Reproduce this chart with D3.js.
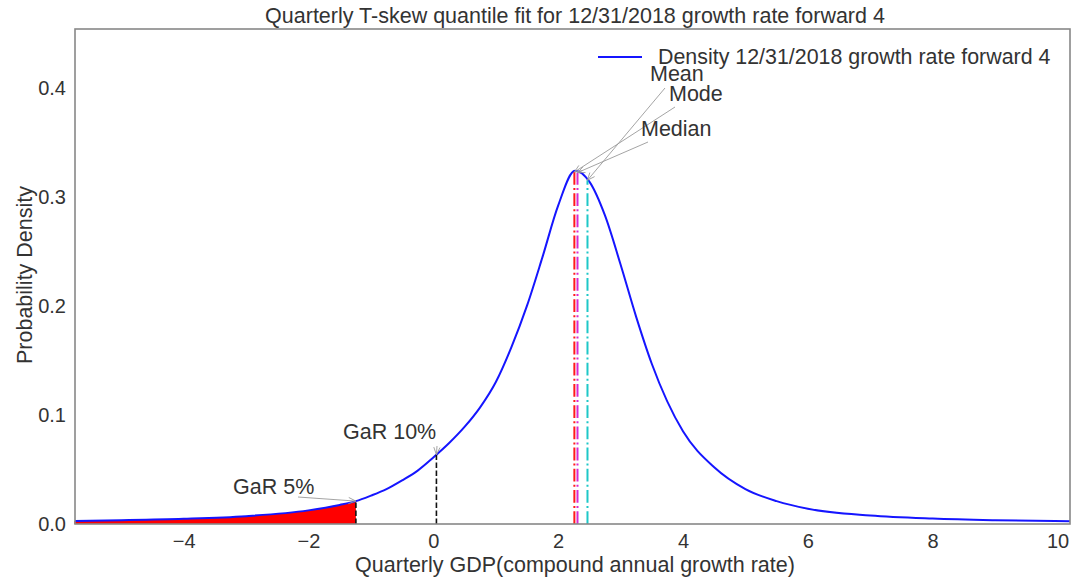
<!DOCTYPE html>
<html><head><meta charset="utf-8">
<script src="https://cdn.jsdelivr.net/npm/d3@7"></script>
<style>
body{margin:0;background:#fff;}
text{font-family:"Liberation Sans",Arial,sans-serif;fill:#333;}
</style></head>
<body><svg id="c" width="1071" height="580"></svg>
<script>
const densityX = [-5.75,-5,-4,-3,-2,-1.5,-1.24,-1,-0.75,-0.5,-0.25,0,0.25,0.5,0.75,1,1.25,1.5,1.75,2,2.27,2.5,2.75,3,3.25,3.5,4,4.5,5,5.5,6,7,8,9,10.2];
const densityY = [0.0028,0.0035,0.0048,0.0072,0.0125,0.0175,0.021,0.026,0.032,0.040,0.049,0.061,0.074,0.089,0.107,0.130,0.162,0.200,0.245,0.292,0.324,0.314,0.283,0.238,0.190,0.147,0.085,0.052,0.032,0.021,0.0140,0.0078,0.0050,0.0035,0.0025];
const xTicks = [-4,-2,0,2,4,6,8,10];
const yTicks = [0.0,0.1,0.2,0.3,0.4];
const garLabels = ["GaR 5%","GaR 10%"];
const garValues = [-1.24,0.05];
const statLabels = ["Mode","Median","Mean"];
const statValues = [2.26,2.31,2.47];
const statColors = ["#ff1a1a","#d62ad6","#1ec8c8"];
const titleText = "Quarterly T-skew quantile fit for 12/31/2018 growth rate forward 4";
const legendText = "Density 12/31/2018 growth rate forward 4";
const xLabel = "Quarterly GDP(compound annual growth rate)";
const yLabel = "Probability Density";

const svg = d3.select("#c");
const L=75,R=1070,T=29,B=524;
const x = d3.scaleLinear().domain([-5.74,10.2]).range([L,R]);
const y = d3.scaleLinear().domain([0,0.454]).range([B,T]);
const dens = d3.scaleLinear().domain(densityX).range(densityY);
const pts = densityX.map((d,i)=>[d,densityY[i]]);

// title
svg.append("text").attr("x",575).attr("y",23).attr("text-anchor","middle")
  .attr("font-size",21.5).text(titleText);

const g = svg.append("g");
// red fill
const fillPts = pts.filter(p=>p[0]<=garValues[0]);
g.append("path").datum(fillPts)
  .attr("d", d3.area().x(d=>x(d[0])).y0(y(0)).y1(d=>y(d[1])).curve(d3.curveMonotoneX))
  .attr("fill","#ff0000");
// density curve
svg.append("clipPath").attr("id","cp").append("rect").attr("x",L).attr("y",T).attr("width",R-L).attr("height",B-T);
g.append("path").datum(pts).attr("clip-path","url(#cp)")
  .attr("d", d3.line().x(d=>x(d[0])).y(d=>y(d[1])).curve(d3.curveMonotoneX))
  .attr("fill","none").attr("stroke","#1515ff").attr("stroke-width",2);

// GaR lines
garValues.forEach(v=>{
  g.append("line").attr("x1",x(v)).attr("x2",x(v)).attr("y1",y(0)).attr("y2",y(dens(v)))
   .attr("stroke","#111").attr("stroke-width",1.6).attr("stroke-dasharray","5.5,2.5");
});
// stat lines
statValues.forEach((v,i)=>{
  g.append("line").attr("x1",x(v)).attr("x2",x(v)).attr("y1",y(0)).attr("y2",y(dens(v)))
   .attr("stroke",statColors[i]).attr("stroke-width",2).attr("stroke-dasharray","12.8,3.2,2,3.2");
});

// axes frame
svg.append("rect").attr("x",L).attr("y",T).attr("width",R-L).attr("height",B-T)
  .attr("fill","none").attr("stroke","#888").attr("stroke-width",1.6);

// ticks
const xa = svg.append("g").attr("transform",`translate(0,${B})`)
  .call(d3.axisBottom(x).tickValues(xTicks).tickSize(0).tickPadding(10).tickFormat(d=>d3.format("")(d).replace("-","\u2212")));
xa.select(".domain").remove();
xa.selectAll("text").attr("font-size",20).attr("fill","#333").attr("font-family","Liberation Sans, Arial, sans-serif");
const ya = svg.append("g").attr("transform",`translate(${L},0)`)
  .call(d3.axisLeft(y).tickValues(yTicks).tickSize(0).tickPadding(9).tickFormat(d3.format(".1f")));
ya.select(".domain").remove();
ya.selectAll("text").attr("font-size",20).attr("fill","#333").attr("font-family","Liberation Sans, Arial, sans-serif");

// axis labels
svg.append("text").attr("x",575).attr("y",572).attr("text-anchor","middle").attr("font-size",21.5).text(xLabel);
svg.append("text").attr("transform","translate(32,275) rotate(-90)").attr("text-anchor","middle").attr("font-size",21.5).text(yLabel);

// legend
svg.append("line").attr("x1",598).attr("x2",642).attr("y1",57).attr("y2",57).attr("stroke","#1515ff").attr("stroke-width",2);
svg.append("text").attr("x",658).attr("y",64).attr("font-size",21.4).text(legendText);

// arrows
function arrow(x1,y1,x2,y2){
  g.append("line").attr("x1",x1).attr("y1",y1).attr("x2",x2).attr("y2",y2).attr("stroke","#9a9a9a").attr("stroke-width",0.9);
  const a=Math.atan2(y1-y2,x1-x2), h=8, w=0.4;
  const p1=[x2+h*Math.cos(a+w),y2+h*Math.sin(a+w)], p2=[x2+h*Math.cos(a-w),y2+h*Math.sin(a-w)];
  g.append("path").attr("d",`M${p1}L${x2},${y2}L${p2}`).attr("fill","none").attr("stroke","#9a9a9a").attr("stroke-width",0.9);
}
// stat annotations: text position & arrow start (px)
const statText = [[669,101,675,107],[641,136,648,142],[650,81,665,88]];
statValues.forEach((v,i)=>{
  const [tx,ty,sx,sy]=statText[i];
  svg.append("text").attr("x",tx).attr("y",ty).attr("font-size",21.5).text(statLabels[i]);
  arrow(sx,sy,x(v),y(dens(v)));
});
const garText = [[233,494,298,497],[343,439,437,446]];
garValues.forEach((v,i)=>{
  const [tx,ty,sx,sy]=garText[i];
  svg.append("text").attr("x",tx).attr("y",ty).attr("font-size",21.5).text(garLabels[i]);
  arrow(sx,sy,x(v),y(dens(v)));
});
</script></body></html>
